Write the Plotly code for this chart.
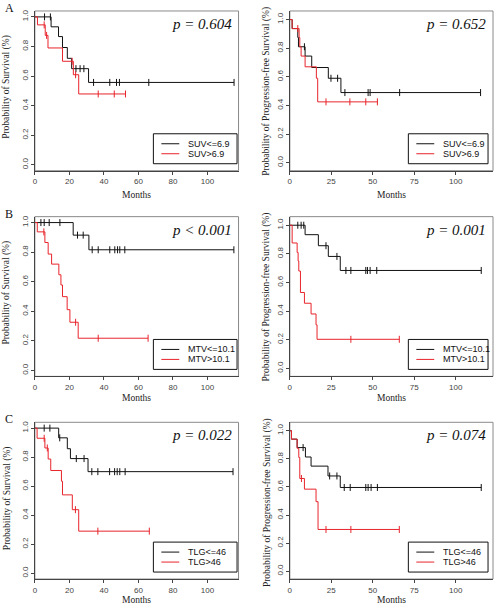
import plotly.graph_objects as go

W, H = 496, 606

# ---------------- data ----------------
# Panel A: SUV
A_os_lo_t = [0, 9.4, 13.7, 16.0, 18.8, 21.3, 31.1, 115.4]
A_os_lo_s = [1.0, 0.933, 0.867, 0.793, 0.72, 0.65, 0.557, 0.557]
A_os_lo_c = [5.6, 9.0, 23.8, 26.2, 28.4, 34.0, 43.4, 47.3, 49.0, 66.0, 115.4]
A_os_hi_t = [0, 1.5, 6.0, 7.6, 16.0, 22.3, 25.4, 52.5]
A_os_hi_s = [1.0, 0.946, 0.875, 0.79, 0.70, 0.609, 0.479, 0.479]
A_os_hi_c = [5.4, 6.8, 21.6, 23.6, 36.7, 46.0, 52.5]

A_pfs_lo_t = [0, 1.4, 4.8, 5.2, 9.2, 13.2, 23.2, 30.8, 115.0]
A_pfs_lo_s = [1.0, 0.937, 0.875, 0.81, 0.745, 0.665, 0.59, 0.49, 0.49]
A_pfs_lo_c = [8.8, 24.8, 28.8, 33.2, 47.2, 48.4, 66.2, 115.0]
A_pfs_hi_t = [0, 1.4, 5.6, 6.0, 6.8, 9.2, 16.0, 16.8, 52.8]
A_pfs_hi_s = [1.0, 0.937, 0.875, 0.81, 0.745, 0.67, 0.59, 0.425, 0.425]
A_pfs_hi_c = [4.8, 21.8, 36.2, 45.8, 52.8]

# Panel B: MTV
B_os_lo_t = [0, 22.2, 31.3, 115.3]
B_os_lo_s = [1.0, 0.915, 0.816, 0.816]
B_os_lo_c = [3.5, 5.4, 8.3, 14.5, 24.7, 28.0, 33.2, 36.7, 43.4, 46.3, 47.9, 49.2, 52.1, 115.3]
B_os_hi_t = [0, 1.4, 5.8, 7.7, 9.7, 13.9, 15.1, 16.0, 18.7, 20.3, 25.1, 65.6]
B_os_hi_s = [1.0, 0.937, 0.865, 0.787, 0.719, 0.647, 0.578, 0.499, 0.411, 0.326, 0.218, 0.218]
B_os_hi_c = [5.2, 23.6, 36.7, 65.6]

B_pfs_lo_t = [0, 9.2, 17.2, 23.2, 30.4, 115.4]
B_pfs_lo_s = [1.0, 0.934, 0.857, 0.782, 0.684, 0.684]
B_pfs_lo_c = [4.8, 6.8, 8.4, 21.8, 28.4, 33.8, 36.8, 45.8, 46.8, 48.4, 52.4, 115.4]
B_pfs_hi_t = [0, 1.4, 4.4, 5.0, 5.4, 6.4, 8.8, 12.8, 15.8, 16.4, 66.0]
B_pfs_hi_s = [1.0, 0.876, 0.81, 0.75, 0.68, 0.53, 0.455, 0.38, 0.304, 0.203, 0.203]
B_pfs_hi_c = [36.8, 66.0]

# Panel C: TLG
C_os_lo_t = [0, 13.8, 18.8, 20.6, 30.8, 114.8]
C_os_lo_s = [1.0, 0.933, 0.858, 0.79, 0.70, 0.70]
C_os_lo_c = [5.4, 8.7, 14.4, 24.0, 28.5, 33.0, 36.5, 43.3, 46.2, 47.7, 49.2, 52.3, 114.8]
C_os_hi_t = [0, 1.3, 5.8, 7.7, 9.2, 15.4, 16.0, 21.7, 25.4, 66.3]
C_os_hi_s = [1.0, 0.93, 0.863, 0.787, 0.708, 0.634, 0.54, 0.438, 0.29, 0.29]
C_os_hi_c = [5.4, 7.2, 23.5, 36.5, 66.3]

C_pfs_lo_t = [0, 1.0, 4.4, 9.4, 12.8, 23.0, 30.4, 115.4]
C_pfs_lo_s = [1.0, 0.94, 0.88, 0.813, 0.748, 0.678, 0.596, 0.596]
C_pfs_lo_c = [8.0, 24.0, 28.4, 32.8, 36.4, 45.8, 47.2, 49.0, 52.8, 115.4]
C_pfs_hi_t = [0, 1.0, 4.4, 5.4, 6.0, 8.8, 15.8, 17.0, 66.0]
C_pfs_hi_s = [1.0, 0.94, 0.875, 0.81, 0.66, 0.584, 0.495, 0.297, 0.297]
C_pfs_hi_c = [7.0, 21.8, 36.8, 66.0]

p_values = ["p = 0.604", "p = 0.652", "p &lt; 0.001", "p = 0.001", "p = 0.022", "p = 0.074"]
legend_lo = ["SUV&lt;=6.9", "MTV&lt;=10.1", "TLG&lt;=46"]
legend_hi = ["SUV&gt;6.9", "MTV&gt;10.1", "TLG&gt;46"]
row_letters = ["A", "B", "C"]
os_title = "Probability of Survival (%)"
pfs_title = "Probability of Progression-free Survival (%)"
x_title = "Months"
os_xticks = [0, 20, 40, 60, 80, 100]
pfs_xticks = [0, 25, 50, 75, 100]
y_ticks = [0.0, 0.2, 0.4, 0.6, 0.8, 1.0]

BLACK = "#111111"
RED = "#e8242b"
SERIF = "Liberation Serif, Times New Roman, serif"
SANS = "Liberation Sans, Arial, sans-serif"

panels = [
    [(A_os_lo_t, A_os_lo_s, A_os_lo_c), (A_os_hi_t, A_os_hi_s, A_os_hi_c)],
    [(A_pfs_lo_t, A_pfs_lo_s, A_pfs_lo_c), (A_pfs_hi_t, A_pfs_hi_s, A_pfs_hi_c)],
    [(B_os_lo_t, B_os_lo_s, B_os_lo_c), (B_os_hi_t, B_os_hi_s, B_os_hi_c)],
    [(B_pfs_lo_t, B_pfs_lo_s, B_pfs_lo_c), (B_pfs_hi_t, B_pfs_hi_s, B_pfs_hi_c)],
    [(C_os_lo_t, C_os_lo_s, C_os_lo_c), (C_os_hi_t, C_os_hi_s, C_os_hi_c)],
    [(C_pfs_lo_t, C_pfs_lo_s, C_pfs_lo_c), (C_pfs_hi_t, C_pfs_hi_s, C_pfs_hi_c)],
]


def surv_at(ts, ss, c):
    v = ss[0]
    for t, s in zip(ts, ss):
        if t <= c:
            v = s
    return v


def px(x):
    return x / W


def py(y):
    return 1 - y / H


# layout geometry (pixels)
row_top = [10, 216, 422]
row_h = [160, 160, 157]
col_x = [(33, 237.5), (289, 493)]
x_ranges = [[0, 118], [0, 122.5]]
y_ranges = [[-0.04, 1.04], [-0.056, 1.06]]
xtitle_off = [24, 22, 21]

fig = go.Figure()
layout = dict(
    width=W, height=H, margin=dict(l=0, r=0, t=0, b=0),
    paper_bgcolor="white", plot_bgcolor="white", showlegend=False,
)
shapes = []
annotations = []

for i, curves in enumerate(panels):
    r, c = divmod(i, 2)
    xa = "x" if i == 0 else f"x{i+1}"
    ya = "y" if i == 0 else f"y{i+1}"
    xk = "xaxis" if i == 0 else f"xaxis{i+1}"
    yk = "yaxis" if i == 0 else f"yaxis{i+1}"
    top = row_top[r]
    bot = top + row_h[r]
    x0, x1 = col_x[c]
    for (ts, ss, cs), col in zip(curves, [BLACK, RED]):
        fig.add_trace(go.Scatter(x=ts, y=ss, mode="lines", line=dict(color=col, width=1, shape="hv"),
                                 xaxis=xa, yaxis=ya, hoverinfo="skip"))
        fig.add_trace(go.Scatter(x=cs, y=[surv_at(ts, ss, v) for v in cs], mode="markers",
                                 marker=dict(symbol="line-ns", size=5, line=dict(color=col, width=1)),
                                 xaxis=xa, yaxis=ya, hoverinfo="skip"))
    xt = os_xticks if c == 0 else pfs_xticks
    layout[xk] = dict(domain=[px(x0), px(x1)], range=x_ranges[c], anchor=ya,
                      tickvals=xt, ticktext=[str(v) for v in xt], ticks="outside", ticklen=3,
                      tickcolor="#444", tickwidth=1, showline=True, linecolor="#444", linewidth=1,
                      showgrid=False, zeroline=False, tickfont=dict(family=SANS, size=8, color="#444"))
    layout[yk] = dict(domain=[py(bot), py(top)], range=y_ranges[c], anchor=xa,
                      tickvals=y_ticks, ticktext=[f"{v:.1f}" for v in y_ticks], ticks="outside", ticklen=3,
                      tickcolor="#444", tickwidth=1, showline=True, linecolor="#444", linewidth=1,
                      tickangle=-90, showgrid=False, zeroline=False,
                      tickfont=dict(family=SANS, size=8, color="#444"))
    # frame
    shapes.append(dict(type="rect", xref="paper", yref="paper", x0=px(x0), x1=px(x1), y0=py(bot), y1=py(top),
                       line=dict(color="#8a8a8a", width=1), layer="below"))
    # p-value
    annotations.append(dict(text=f"<i>{p_values[i]}</i>", xref="paper", yref="paper",
                            x=px(x1 - 5), y=py(top + 13), xanchor="right", yanchor="middle",
                            showarrow=False, font=dict(family=SERIF, size=15, color="#111")))
    # axis titles
    annotations.append(dict(text=x_title, xref="paper", yref="paper", x=px((x0 + x1) / 2),
                            y=py(bot + xtitle_off[r]),
                            xanchor="center", yanchor="middle", showarrow=False,
                            font=dict(family=SERIF, size=9.5, color="#222")))
    ytx = 5 if c == 0 else 266
    annotations.append(dict(text=os_title if c == 0 else pfs_title, xref="paper", yref="paper",
                            x=px(ytx), y=py(top + (76 if c == 0 else 80)), xanchor="center", yanchor="middle",
                            textangle=-90, showarrow=False, font=dict(family=SERIF, size=9.5, color="#222")))
    # legend box
    lx0, lx1 = (152, 236) if c == 0 else (408, 488)
    ly0, ly1 = bot - 37, bot - 7
    shapes.append(dict(type="rect", xref="paper", yref="paper", x0=px(lx0), x1=px(lx1), y0=py(ly1), y1=py(ly0),
                       line=dict(color="#111", width=1), fillcolor="white"))
    texts = [legend_lo[r], legend_hi[r]]
    for k, col in enumerate([BLACK, RED]):
        yy = ly0 + 10 + k * 10
        shapes.append(dict(type="line", xref="paper", yref="paper", x0=px(lx0 + 8), x1=px(lx0 + 26),
                           y0=py(yy), y1=py(yy), line=dict(color=col, width=1)))
        annotations.append(dict(text=texts[k], xref="paper", yref="paper", x=px(lx0 + 33), y=py(yy),
                                xanchor="left", yanchor="middle", showarrow=False,
                                font=dict(family=SANS, size=9, color="#111")))

for r, letter in enumerate(row_letters):
    annotations.append(dict(text=letter, xref="paper", yref="paper", x=px(1), y=py(row_top[r] - 3),
                            xanchor="left", yanchor="middle", showarrow=False,
                            font=dict(family=SERIF, size=12, color="#111")))

layout["shapes"] = shapes
layout["annotations"] = annotations
fig.update_layout(**layout)
fig.write_html("out.html", config={"displayModeBar": False, "staticPlot": True},
               post_script="document.body.style.margin='0';document.body.style.overflow='hidden';")
